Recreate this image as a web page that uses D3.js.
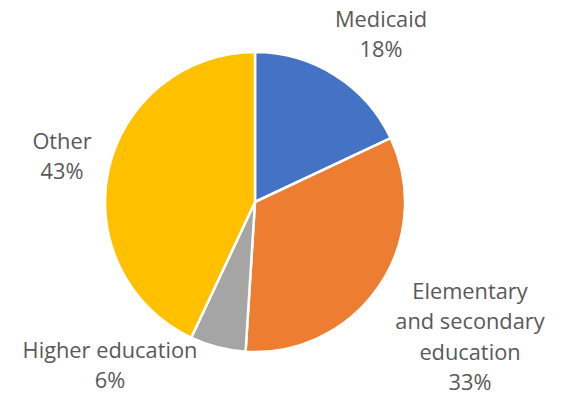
<!DOCTYPE html>
<html>
<head>
<meta charset="utf-8">
<script src="https://cdn.jsdelivr.net/npm/d3@7"></script>
<style>
  html, body { margin: 0; padding: 0; background: #fff; }
  svg { display: block; }
</style>
</head>
<body>
<svg id="chart" width="561" height="395"></svg>
<script>
// Spending shares by category
const categories = ["Medicaid", "Elementary and secondary education", "Higher education", "Other"];
const shares = [18, 33, 6, 43];
const colors = ["#4472C4", "#ED7D31", "#A5A5A5", "#FFC000"];
// Label lines (multi-line where the category name wraps)
const labelLines = [
  ["Medicaid", "18%"],
  ["Elementary", "and secondary", "education", "33%"],
  ["Higher education", "6%"],
  ["Other", "43%"]
];
// Label anchor positions (x center, first baseline)
const labelX = [381, 470, 110, 62];
const labelY = [27, 299, 358, 149];

const svg = d3.select("#chart");
const cx = 255, cy = 202, r = 150;

const pie = d3.pie().sort(null).value(d => d)(shares);
const arc = d3.arc().innerRadius(0).outerRadius(r);

const g = svg.append("g").attr("transform", `translate(${cx},${cy})`);
g.selectAll("path")
  .data(pie)
  .join("path")
  .attr("d", arc)
  .attr("fill", (d, i) => colors[i])
  .attr("stroke", "#fff")
  .attr("stroke-width", 2.5)
  .attr("stroke-linejoin", "round");

const lineH = 30.3;
categories.forEach((c, i) => {
  const t = svg.append("text")
    .attr("text-anchor", "middle")
    .attr("font-family", "'Open Sans', 'Noto Sans', sans-serif")
    .attr("font-size", 21.8)
    .attr("fill", "#595959");
  labelLines[i].forEach((ln, k) => {
    t.append("tspan")
      .attr("x", labelX[i])
      .attr("y", labelY[i] + k * lineH)
      .text(ln);
  });
});
</script>
</body>
</html>
